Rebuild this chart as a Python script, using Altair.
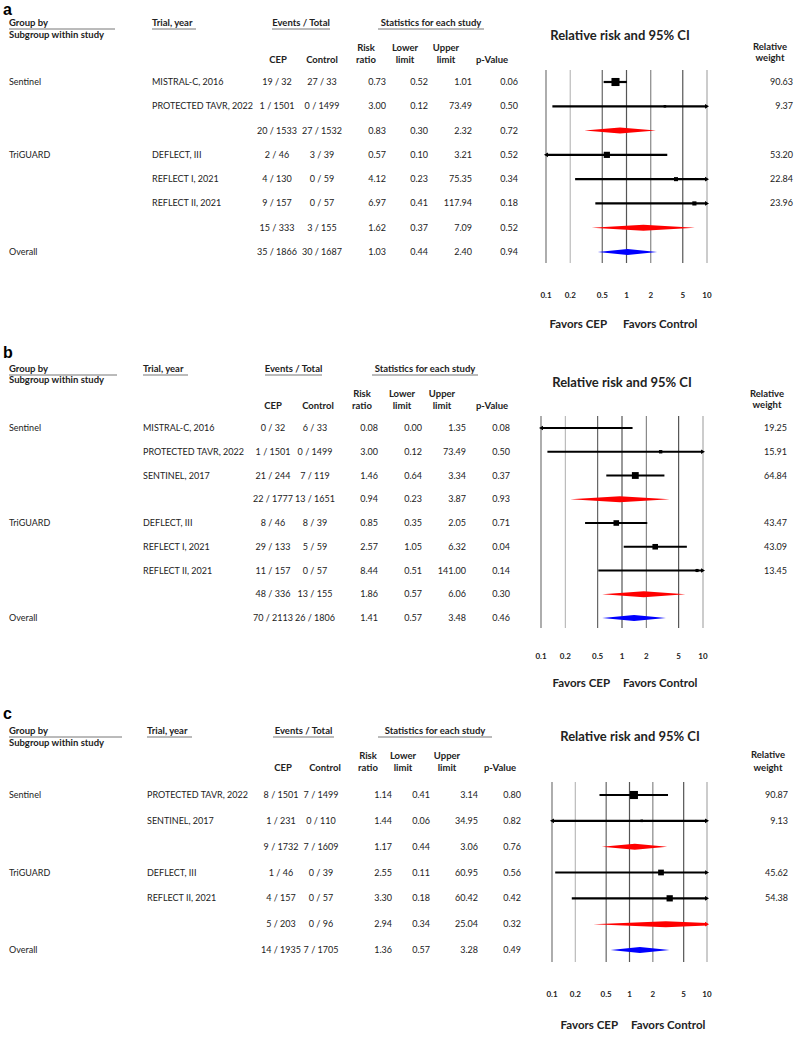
import math
import altair as alt
import pandas as pd

FONT = "Lato"

# ---------------- data: panel a ----------------
a_group = ["Sentinel", "", "", "TriGUARD", "", "", "", "Overall"]
a_trial = ["MISTRAL-C, 2016", "PROTECTED TAVR, 2022", "", "DEFLECT, III",
           "REFLECT I, 2021", "REFLECT II, 2021", "", ""]
a_cep = ["19 / 32", "1 / 1501", "20 / 1533", "2 / 46", "4 / 130", "9 / 157", "15 / 333", "35 / 1866"]
a_ctrl = ["27 / 33", "0 / 1499", "27 / 1532", "3 / 39", "0 / 59", "0 / 57", "3 / 155", "30 / 1687"]
a_rr = [0.73, 3.00, 0.83, 0.57, 4.12, 6.97, 1.62, 1.03]
a_lo = [0.52, 0.12, 0.30, 0.10, 0.23, 0.41, 0.37, 0.44]
a_hi = [1.01, 73.49, 2.32, 3.21, 75.35, 117.94, 7.09, 2.40]
a_p = [0.06, 0.50, 0.72, 0.52, 0.34, 0.18, 0.52, 0.94]
a_w = [90.63, 9.37, None, 53.20, 22.84, 23.96, None, None]
a_kind = ["study", "study", "pooled", "study", "study", "study", "pooled", "overall"]

# ---------------- data: panel b ----------------
b_group = ["Sentinel", "", "", "", "TriGUARD", "", "", "", "Overall"]
b_trial = ["MISTRAL-C, 2016", "PROTECTED TAVR, 2022", "SENTINEL, 2017", "", "DEFLECT, III",
           "REFLECT I, 2021", "REFLECT II, 2021", "", ""]
b_cep = ["0 / 32", "1 / 1501", "21 / 244", "22 / 1777", "8 / 46", "29 / 133", "11 / 157", "48 / 336", "70 / 2113"]
b_ctrl = ["6 / 33", "0 / 1499", "7 / 119", "13 / 1651", "8 / 39", "5 / 59", "0 / 57", "13 / 155", "26 / 1806"]
b_rr = [0.08, 3.00, 1.46, 0.94, 0.85, 2.57, 8.44, 1.86, 1.41]
b_lo = [0.00, 0.12, 0.64, 0.23, 0.35, 1.05, 0.51, 0.57, 0.57]
b_hi = [1.35, 73.49, 3.34, 3.87, 2.05, 6.32, 141.00, 6.06, 3.48]
b_p = [0.08, 0.50, 0.37, 0.93, 0.71, 0.04, 0.14, 0.30, 0.46]
b_w = [19.25, 15.91, 64.84, None, 43.47, 43.09, 13.45, None, None]
b_kind = ["study", "study", "study", "pooled", "study", "study", "study", "pooled", "overall"]

# ---------------- data: panel c ----------------
c_group = ["Sentinel", "", "", "TriGUARD", "", "", "Overall"]
c_trial = ["PROTECTED TAVR, 2022", "SENTINEL, 2017", "", "DEFLECT, III", "REFLECT II, 2021", "", ""]
c_cep = ["8 / 1501", "1 / 231", "9 / 1732", "1 / 46", "4 / 157", "5 / 203", "14 / 1935"]
c_ctrl = ["7 / 1499", "0 / 110", "7 / 1609", "0 / 39", "0 / 57", "0 / 96", "7 / 1705"]
c_rr = [1.14, 1.44, 1.17, 2.55, 3.30, 2.94, 1.36]
c_lo = [0.41, 0.06, 0.44, 0.11, 0.18, 0.34, 0.57]
c_hi = [3.14, 34.95, 3.06, 60.95, 60.42, 25.04, 3.28]
c_p = [0.80, 0.82, 0.76, 0.56, 0.42, 0.32, 0.49]
c_w = [90.87, 9.13, None, 45.62, 54.38, None, None]
c_kind = ["study", "study", "pooled", "study", "study", "pooled", "overall"]

# axis ticks of the forest plot
tick_vals = [0.1, 0.2, 0.5, 1, 2, 5, 10]
tick_labels = ["0.1", "0.2", "0.5", "1", "2", "5", "10"]

# ---------------- layout (pixels, per panel) ----------------
grid_colors = ["#777777", "#bbbbbb", "#666666", "#555555", "#888888", "#555555", "#aaaaaa"]
LAYOUT = {
    "a": dict(height=345, letter_y=15, gb_y=23, sub_y=35, r1_y=48, r2_y=60,
              row_first=82, row_last=252, title_x=620, title_y=36, rw_x=770, rw1_y=47, rw2_y=58,
              grid_top=70, grid_bot=263, tick_y=296, favors_y=325, fav_l=607, fav_r=623,
              x_group=9, x_trial=152, ul_group=(9, 115), ul_trial=(152, 196),
              ul_events=(272, 330), ul_stats=(378, 484),
              h_cep=278, h_ctrl=322, h_rr=366, h_lo=405, h_hi=446, h_p=492,
              x_cep=277, x_ctrl=322, x_rr=386, x_lo=428, x_hi=472, x_p=518,
              forest=(546, 707), x_w=793),
    "b": dict(height=355, letter_y=13, gb_y=24, sub_y=35, r1_y=49, r2_y=61,
              row_first=83, row_last=273, title_x=622, title_y=38, rw_x=767, rw1_y=49, rw2_y=60,
              grid_top=71, grid_bot=283, tick_y=312, favors_y=339, fav_l=610, fav_r=623,
              x_group=9, x_trial=143, ul_group=(9, 117), ul_trial=(143, 188),
              ul_events=(265, 322), ul_stats=(372, 478),
              h_cep=273, h_ctrl=318, h_rr=362, h_lo=402, h_hi=442, h_p=492,
              x_cep=273, x_ctrl=315, x_rr=378, x_lo=422, x_hi=466, x_p=510,
              forest=(541, 703), x_w=787),
    "c": dict(height=337, letter_y=19, gb_y=31, sub_y=43, r1_y=56, r2_y=68,
              row_first=95, row_last=250, title_x=630, title_y=37, rw_x=768, rw1_y=55, rw2_y=68,
              grid_top=82, grid_bot=262, tick_y=295, favors_y=326, fav_l=618, fav_r=631,
              x_group=9, x_trial=147, ul_group=(9, 122), ul_trial=(147, 192),
              ul_events=(273, 334), ul_stats=(378, 492),
              h_cep=283, h_ctrl=325, h_rr=368, h_lo=403, h_hi=447, h_p=500,
              x_cep=281, x_ctrl=321, x_rr=392, x_lo=430, x_hi=478, x_p=521,
              forest=(552, 707), x_w=788),
}

TXT = "#222222"
DSIZE = 9
HSIZE = 9.5
ONE = alt.Data(values=[{}])


def label(txt, x, y, size=HSIZE, bold=True, align="left", font=FONT, color=TXT, baseline="middle"):
    return alt.Chart(ONE).mark_text(
        text=txt, align=align, baseline=baseline, font=font, fontSize=size,
        fontWeight="bold" if bold else "normal", color=color,
    ).encode(x=alt.value(x), y=alt.value(y))


def hline(x1, x2, y, color="#777777"):
    return alt.Chart(ONE).mark_rule(color=color, strokeWidth=1).encode(
        x=alt.value(x1), x2=alt.value(x2), y=alt.value(y))


def build_panel(letter, group, trial, cep, ctrl, rr, lo, hi, p, w, kind, L):
    n = len(rr)
    df = pd.DataFrame({
        "row": list(range(n)), "group": group, "trial": trial, "cep": cep, "ctrl": ctrl,
        "rr": rr, "lo": lo, "hi": hi, "p": p, "w": w, "kind": kind,
    })
    df["lo_c"] = df["lo"].clip(lower=0.1)
    df["hi_c"] = df["hi"].clip(upper=10)

    yscale = alt.Scale(domain=[0, n - 1], range=[L["row_first"], L["row_last"]], zero=False, nice=False)
    xscale = alt.Scale(type="log", domain=[0.1, 10], range=list(L["forest"]), nice=False)

    def Y(f):
        return alt.Y(f"{f}:Q", scale=yscale, axis=None)

    def X(f):
        return alt.X(f"{f}:Q", scale=xscale, axis=None)

    def col_text(field, x, align, fmt=None):
        t = alt.Text(f"{field}:Q", format=fmt) if fmt else alt.Text(f"{field}:N")
        return alt.Chart(df).mark_text(
            align=align, baseline="middle", font=FONT, fontSize=DSIZE, color=TXT
        ).encode(x=alt.value(x), y=Y("row"), text=t)

    layers = []
    # panel letter
    layers.append(label(letter, 3, L["letter_y"], size=16, font="Liberation Sans",
                        color="#000000", baseline="alphabetic"))
    # headers
    gy = L["gb_y"]
    layers += [
        label("Group by", L["x_group"], gy),
        label("Subgroup within study", L["x_group"], L["sub_y"]),
        label("Trial, year", L["x_trial"], gy),
        label("Events / Total", (L["ul_events"][0] + L["ul_events"][1]) / 2, gy, align="center"),
        label("Statistics for each study", (L["ul_stats"][0] + L["ul_stats"][1]) / 2, gy, align="center"),
        hline(L["ul_group"][0], L["ul_group"][1], gy + 6),
        hline(L["ul_trial"][0], L["ul_trial"][1], gy + 6),
        hline(L["ul_events"][0], L["ul_events"][1], gy + 6),
        hline(L["ul_stats"][0], L["ul_stats"][1], gy + 6),
        label("Risk", L["h_rr"], L["r1_y"], align="center"),
        label("Lower", L["h_lo"], L["r1_y"], align="center"),
        label("Upper", L["h_hi"], L["r1_y"], align="center"),
        label("CEP", L["h_cep"], L["r2_y"], align="center"),
        label("Control", L["h_ctrl"], L["r2_y"], align="center"),
        label("ratio", L["h_rr"], L["r2_y"], align="center"),
        label("limit", L["h_lo"], L["r2_y"], align="center"),
        label("limit", L["h_hi"], L["r2_y"], align="center"),
        label("p-Value", L["h_p"], L["r2_y"], align="center"),
        label("Relative risk and 95% CI", L["title_x"], L["title_y"], size=13, align="center"),
        label("Relative", L["rw_x"], L["rw1_y"], align="center"),
        label("weight", L["rw_x"], L["rw2_y"], align="center"),
        label("Favors CEP", L["fav_l"], L["favors_y"], size=11.5, align="right"),
        label("Favors Control", L["fav_r"], L["favors_y"], size=11.5, align="left"),
    ]
    # table body
    layers += [
        col_text("group", L["x_group"], "left"),
        col_text("trial", L["x_trial"], "left"),
        col_text("cep", L["x_cep"], "center"),
        col_text("ctrl", L["x_ctrl"], "center"),
        col_text("rr", L["x_rr"], "right", ".2f"),
        col_text("lo", L["x_lo"], "right", ".2f"),
        col_text("hi", L["x_hi"], "right", ".2f"),
        col_text("p", L["x_p"], "right", ".2f"),
    ]
    layers.append(
        alt.Chart(df).transform_filter("isValid(datum.w)").mark_text(
            align="right", baseline="middle", font=FONT, fontSize=DSIZE, color=TXT
        ).encode(x=alt.value(L["x_w"]), y=Y("row"), text=alt.Text("w:Q", format=".2f"))
    )

    # forest grid + tick labels
    tdf = pd.DataFrame({"t": tick_vals, "lab": tick_labels, "c": grid_colors})
    layers.append(
        alt.Chart(tdf).mark_rule(strokeWidth=1.2).encode(
            x=X("t"), y=alt.value(L["grid_top"]), y2=alt.value(L["grid_bot"]),
            color=alt.Color("c:N", scale=None))
    )
    layers.append(
        alt.Chart(tdf).mark_text(font=FONT, fontSize=8, fontWeight="bold", baseline="middle",
                                 color=TXT).encode(
            x=X("t"), y=alt.value(L["tick_y"]), text="lab:N")
    )

    # study CIs
    studies = df[df["kind"] == "study"]
    layers.append(
        alt.Chart(studies).mark_rule(color="#000000", strokeWidth=2.2).encode(
            x=X("lo_c"), x2=alt.X2("hi_c:Q"), y=Y("row"))
    )
    inside = studies[(studies["rr"] >= 0.1) & (studies["rr"] <= 10)]
    layers.append(
        alt.Chart(inside).mark_square(color="#000000", opacity=1, filled=True).encode(
            x=X("rr"), y=Y("row"),
            size=alt.Size("w:Q", scale=alt.Scale(domain=[0, 100], range=[0, 72]), legend=None))
    )

    # diamonds
    step = (L["row_last"] - L["row_first"]) / (n - 1)
    hh = 3.0 / step
    drows, arows = [], []
    for _, r in df.iterrows():
        col = "#000000" if r["kind"] == "study" else ("#ff0000" if r["kind"] == "pooled" else "#0000ff")
        if r["lo"] <= 0.1:
            arows.append({"ax": 0.1, "row": r["row"], "shape": "triangle-left", "col": col})
        if r["hi"] >= 10:
            arows.append({"ax": 10, "row": r["row"], "shape": "triangle-right", "col": col})
        if r["kind"] == "study":
            continue
        lg_rr, lg_hi = math.log10(r["rr"]), math.log10(r["hi"])
        pts = [(r["lo_c"], 0.0), (r["rr"], hh)]
        if r["hi"] > 10:
            f = (lg_hi - 1.0) / (lg_hi - lg_rr)
            pts.append((10.0, hh * f))
        else:
            pts.append((r["hi"], 0.0))
        for xv, h in pts:
            drows.append({"id": int(r["row"]), "dx": xv, "y1": r["row"] - h, "y2": r["row"] + h, "col": col})
    ddf = pd.DataFrame(drows)
    layers.append(
        alt.Chart(ddf).mark_area(orient="vertical", opacity=1).encode(
            x=X("dx"), y=Y("y1"), y2=alt.Y2("y2:Q"), detail="id:N",
            color=alt.Color("col:N", scale=None))
    )
    adf = pd.DataFrame(arows)
    layers.append(
        alt.Chart(adf).mark_point(filled=True, opacity=1, size=22).encode(
            x=X("ax"), y=Y("row"),
            shape=alt.Shape("shape:N", scale=None),
            color=alt.Color("col:N", scale=None))
    )

    return alt.layer(*layers).properties(width=795, height=L["height"])


pa = build_panel("a", a_group, a_trial, a_cep, a_ctrl, a_rr, a_lo, a_hi, a_p, a_w, a_kind, LAYOUT["a"])
pb = build_panel("b", b_group, b_trial, b_cep, b_ctrl, b_rr, b_lo, b_hi, b_p, b_w, b_kind, LAYOUT["b"])
pc = build_panel("c", c_group, c_trial, c_cep, c_ctrl, c_rr, c_lo, c_hi, c_p, c_w, c_kind, LAYOUT["c"])

chart = alt.vconcat(pa, pb, pc, spacing=0, padding=0, bounds="flush", background="white").configure_view(stroke=None)
chart.save("out.html", embed_options={"renderer": "svg", "actions": False})
